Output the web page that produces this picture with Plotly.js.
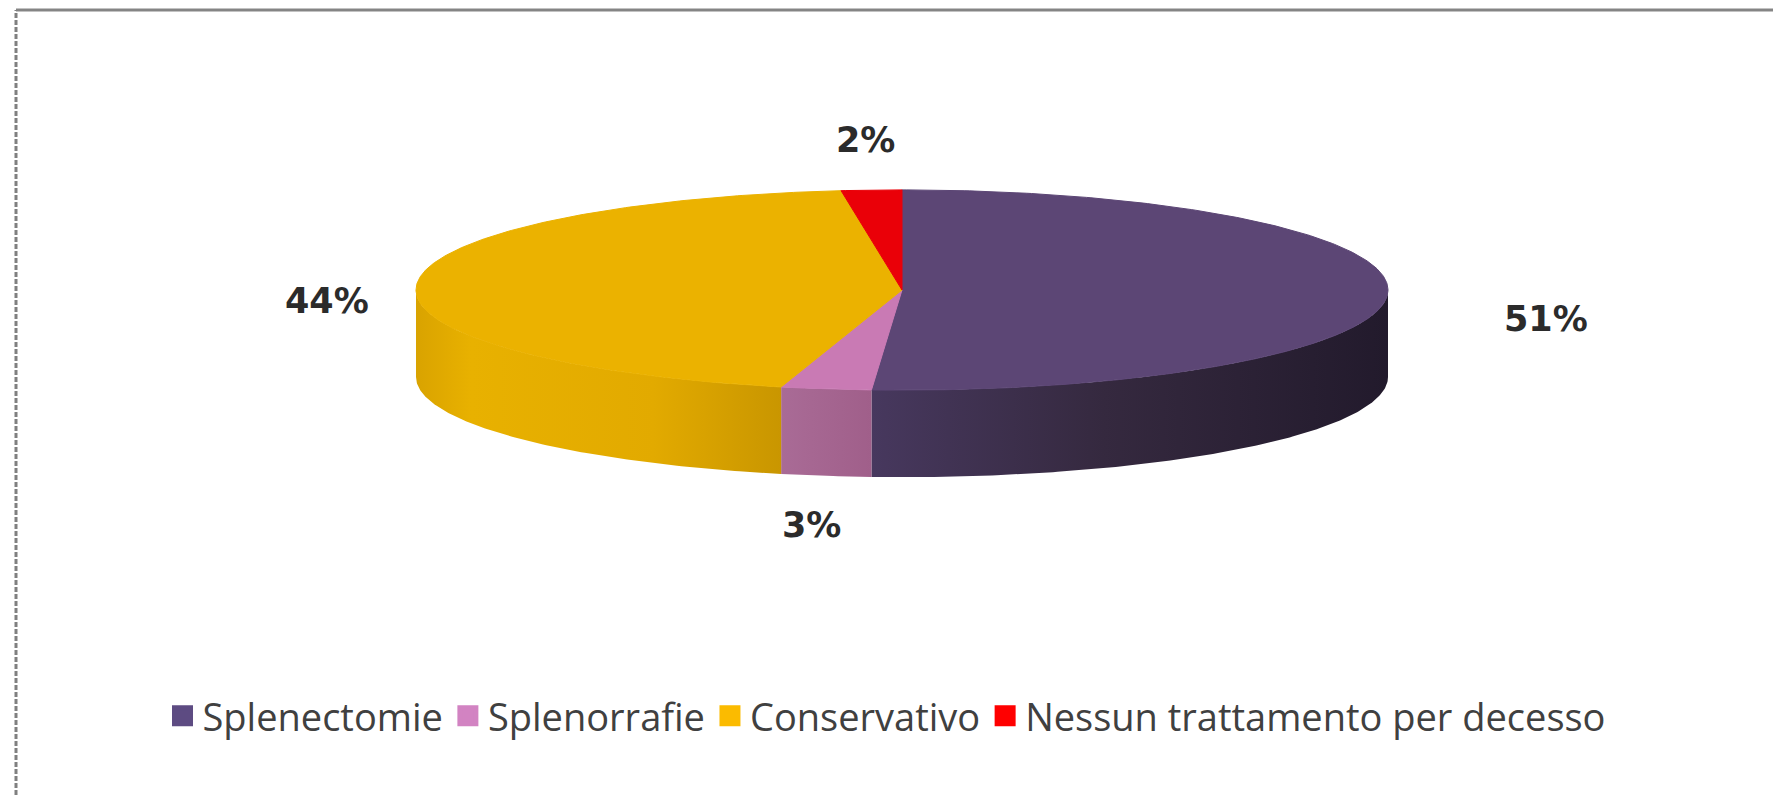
<!DOCTYPE html>
<html>
<head>
<meta charset="utf-8">
<script src="https://cdn.plot.ly/plotly-3.0.1.min.js"></script>
<style>html,body{margin:0;padding:0;background:#fff;}#chart{width:1773px;height:795px;}</style>
</head>
<body>
<div id="chart"></div>
<script>
// ---- data ----
const categories = ['Splenectomie', 'Splenorrafie', 'Conservativo', 'Nessun trattamento per decesso'];
const values = [51, 3, 44, 2];
const valueLabels = ['51%', '3%', '44%', '2%'];

// ---- styles ----
const topColors = ['#5c4675', '#c97ab4', '#ebb200', '#ea0008'];
const legendColors = ['#5d4b82', '#d283c2', '#fbbb00', '#ff0000'];
const sideScales = [
  [[0, '#47385e'], [0.45, '#35293f'], [1, '#221a2c']],
  [[0, '#a96b96'], [1, '#a05f8a']],
  [[0, '#d9a300'], [0.15, '#e8b100'], [0.65, '#e2aa00'], [1, '#c99600']],
  [[0, '#c00008'], [1, '#a00006']]
];

// geometry constants (units: one unit = horizontal radius)
const W = 1773, H = 795;
const CX = 902, CY = 290, RX = 486;
const TILT = 0.206, DEPTH = 0.179;

const total = values.reduce((s, v) => s + v, 0);
const traces = [];
const sides = [], tops = [];
const annotations = [];
let start = 0;

function arc(a0, a1, dy) {
  const n = Math.max(2, Math.ceil((a1 - a0) / 0.01));
  const xs = [], ys = [];
  for (let i = 0; i <= n; i++) {
    const t = a0 + (a1 - a0) * i / n;
    xs.push(Math.sin(t));
    ys.push(TILT * Math.cos(t) + dy);
  }
  return [xs, ys];
}

values.forEach((v, i) => {
  const a0 = start / total * 2 * Math.PI;
  const a1 = (start + v) / total * 2 * Math.PI;
  start += v;
  // top face
  const [tx, ty] = arc(a0, a1, 0);
  tops.push({
    type: 'scatter', mode: 'lines', x: [0].concat(tx, [0]), y: [0].concat(ty, [0]),
    fill: 'toself', fillcolor: topColors[i], line: {color: topColors[i], width: 1},
    hoverinfo: 'skip', showlegend: false
  });
  // visible front side
  const s0 = Math.max(a0, Math.PI / 2), s1 = Math.min(a1, 3 * Math.PI / 2);
  if (s1 > s0) {
    const [ux, uy] = arc(s0, s1, 0);
    const [bx, by] = arc(s0, s1, -DEPTH);
    sides.push({
      type: 'scatter', mode: 'lines',
      x: ux.concat(bx.slice().reverse(), [ux[0]]),
      y: uy.concat(by.slice().reverse(), [uy[0]]),
      fill: 'toself', fillcolor: sideScales[i][0][1],
      fillgradient: {type: 'horizontal', colorscale: sideScales[i]},
      line: {color: 'rgba(0,0,0,0)', width: 0},
      hoverinfo: 'skip', showlegend: false
    });
  }
  // data label, placed outside the slice at its mid angle
  const m = (a0 + a1) / 2;
  const c = Math.cos(m), s = Math.sin(m);
  annotations.push({
    x: 1.255 * s + 0.07 * Math.abs(s),
    y: TILT * 1.5 * c - DEPTH * 0.5 * (1 - c) + 0.25 * DEPTH * (1 - Math.abs(c)),
    text: valueLabels[i], showarrow: false, xanchor: 'center', yanchor: 'middle',
    font: {family: 'DejaVu Sans', size: 35, color: '#2b2b2b', weight: 'bold'}
  });
});

traces.push(...sides, ...tops);
categories.forEach((c, i) => {
  traces.push({
    type: 'scatter', mode: 'markers', x: [null], y: [null], name: c,
    marker: {symbol: 'square', size: 16, color: legendColors[i],
             line: {color: legendColors[i], width: 5}},
    hoverinfo: 'skip', showlegend: true
  });
});

const layout = {
  width: W, height: H,
  margin: {l: 0, r: 0, t: 0, b: 0},
  paper_bgcolor: '#ffffff', plot_bgcolor: '#ffffff',
  xaxis: {range: [(0 - CX) / RX, (W - CX) / RX], visible: false, fixedrange: true},
  yaxis: {range: [(CY - H) / RX, CY / RX], visible: false, fixedrange: true},
  showlegend: true,
  legend: {
    orientation: 'h', x: 0.5, xanchor: 'center', y: 1 - 716 / H, yanchor: 'middle',
    font: {family: 'Open Sans', size: 38, color: '#404040'},
    itemsizing: 'trace', traceorder: 'normal', bgcolor: 'rgba(0,0,0,0)'
  },
  annotations: annotations,
  shapes: [
    {type: 'line', xref: 'paper', yref: 'paper', x0: 16 / W, x1: 1, y0: 1 - 10 / H, y1: 1 - 10 / H,
     line: {color: '#858585', width: 3}},
    {type: 'line', xref: 'paper', yref: 'paper', x0: 16 / W, x1: 16 / W, y0: 0, y1: 1 - 10 / H,
     line: {color: '#808080', width: 3, dash: '5px,2px'}}
  ]
};

Plotly.newPlot('chart', traces, layout, {displayModeBar: false, staticPlot: true});
</script>
</body>
</html>
